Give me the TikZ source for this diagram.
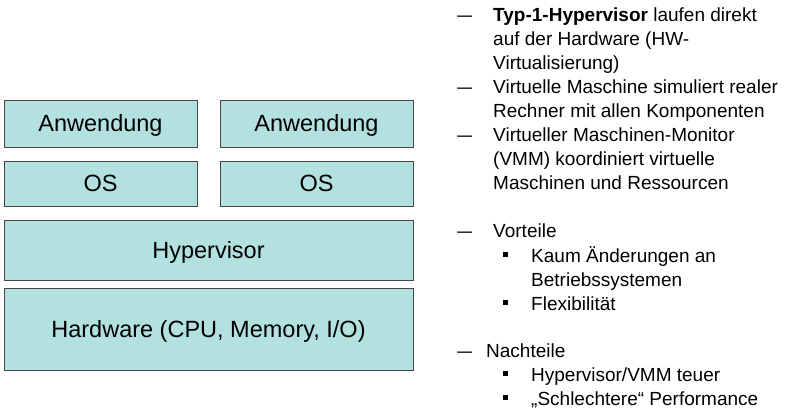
\documentclass[tikz,border=0pt]{standalone}
\usepackage{fontspec}
\setmainfont{Liberation Sans}
\usetikzlibrary{shapes,arrows}

\definecolor{layerfill}{RGB}{179,225,224}
\definecolor{layerdraw}{RGB}{70,70,70}

\tikzset{
	layer/.style={draw=layerdraw, fill=layerfill, line width=1pt, inner sep=0pt, text height=16.8pt, text depth=0pt, font=\fontsize{23.5}{28}\selectfont},
	line/.style={anchor=base west, inner sep=0pt, font=\fontsize{19}{23}\selectfont},
	dashmark/.style={anchor=base west, inner sep=0pt, font=\fontsize{19}{23}\selectfont, xscale=1.4, transform shape},
	sqbullet/.style={fill=black, inner sep=0pt, minimum size=5pt}
}

\begin{document}
\begin{tikzpicture}[x=1pt, y=-1pt]
	\useasboundingbox (0,0) rectangle (792,410);
	%applications
	\node[layer, minimum width=193pt, minimum height=47pt] (app1) at (100.5,123.5) {Anwendung};
	\node[layer, minimum width=193pt, minimum height=47pt] (app2) at (316.5,123.5) {Anwendung};
	%guest systems
	\node[layer, minimum width=193pt, minimum height=45pt] (os1) at (100.5,183.5) {OS};
	\node[layer, minimum width=193pt, minimum height=45pt] (os2) at (316.5,183.5) {OS};
	%hypervisor and hardware
	\node[layer, minimum width=409pt, minimum height=60pt] (hyp) at (208.5,250.5) {Hypervisor};
	\node[layer, minimum width=409pt, minimum height=82pt] (hw) at (208.5,329) {Hardware (CPU, Memory, I/O)};

	%typ-1
	\node[dashmark] (d1) at (457,21.5) {–};
	\node[line] (t1a) at (493,21.5) {\textbf{Typ-1-Hypervisor} laufen direkt};
	\node[line] (t1b) at (493,45.5) {auf der Hardware (HW-};
	\node[line] (t1c) at (493,69.5) {Virtualisierung)};
	%virtual machine
	\node[dashmark] (d2) at (457,93.5) {–};
	\node[line] (t2a) at (493,93.5) {Virtuelle Maschine simuliert realer};
	\node[line] (t2b) at (493,117.5) {Rechner mit allen Komponenten};
	%vmm
	\node[dashmark] (d3) at (457,141.5) {–};
	\node[line] (t3a) at (493,141.5) {Virtueller Maschinen-Monitor};
	\node[line] (t3b) at (493,165.5) {(VMM) koordiniert virtuelle};
	\node[line] (t3c) at (493,189.5) {Maschinen und Ressourcen};
	%pros
	\node[dashmark] (d4) at (457,237) {–};
	\node[line] (pro) at (493,237) {Vorteile};
	\node[sqbullet] (b1) at (505.5,254) {};
	\node[line] (pro1a) at (531,262) {Kaum Änderungen an};
	\node[line] (pro1b) at (531,286) {Betriebssystemen};
	\node[sqbullet] (b2) at (505.5,302) {};
	\node[line] (pro2) at (531,310) {Flexibilität};
	%cons
	\node[dashmark] (d5) at (457,357) {–};
	\node[line] (con) at (486,357) {Nachteile};
	\node[sqbullet] (b3) at (505.5,373.7) {};
	\node[line] (con1) at (531,381.7) {Hypervisor/VMM teuer};
	\node[sqbullet] (b4) at (505.5,397) {};
	\node[line] (con2) at (531,405) {„Schlechtere“ Performance};
\end{tikzpicture}
\end{document}
